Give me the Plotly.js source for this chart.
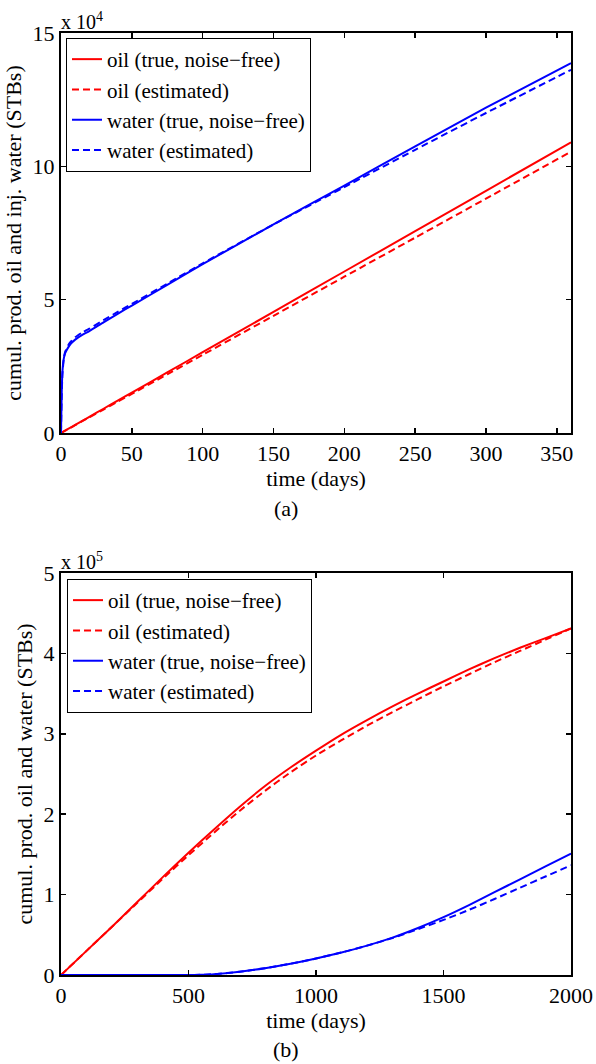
<!DOCTYPE html>
<html>
<head>
<meta charset="utf-8">
<script src="https://cdn.plot.ly/plotly-3.0.1.min.js"></script>
<style>
  html, body { margin: 0; padding: 0; background: #fff; }
  #chart { width: 596px; height: 1064px; }
</style>
</head>
<body>
<div id="chart"></div>
<script>
// ---------- Panel (a): first 360 days ----------
const daysA = [0, 0.5, 1, 2, 3, 5, 7, 10, 15, 20, 30, 40, 50, 75, 100, 150, 200, 250, 300, 360];
const oilTrueA = [0, 151, 303, 606, 908, 1514, 2119, 3028, 4542, 6056, 9083, 12111, 15139, 22708, 30278, 45417, 60556, 75694, 90833, 109000];
const oilEstA  = [0, 147, 293, 586, 879, 1465, 2050, 2930, 4400, 5860, 8790, 11720, 14650, 21980, 29300, 43950, 58600, 73250, 87900, 105500];
const waterTrueA = [0, 15000, 23000, 28000, 30000, 32000, 33500, 35000, 36800, 38200, 41500, 44700, 47800, 55500, 63300, 78200, 92800, 107500, 122000, 138700];
const waterEstA  = [0, 14000, 22000, 28000, 30500, 32800, 34300, 35900, 37700, 39100, 42300, 45400, 48400, 56000, 63600, 78200, 92200, 106200, 120000, 136200];

// ---------- Panel (b): 2000 days ----------
const daysOilB = [0, 100, 200, 300, 400, 500, 600, 700, 800, 900, 1000, 1100, 1200, 1300, 1400, 1500, 1600, 1700, 1800, 1900, 2000];
const oilTrueB = [0, 30000, 60000, 91000, 122000, 152000, 181000, 209000, 235000, 258000, 279000, 299000, 317000, 334000, 350000, 365000, 380000, 394000, 407000, 419000, 431000];
const oilEstB  = [0, 30000, 60000, 90000, 120000, 149000, 177000, 204000, 229000, 252000, 273000, 292000, 310000, 327000, 343000, 359000, 374000, 389000, 403000, 417000, 431000];
const daysWaterB = [0, 200, 400, 500, 550, 600, 700, 800, 900, 1000, 1100, 1200, 1300, 1400, 1500, 1600, 1700, 1800, 1900, 2000];
const waterTrueB = [0, 0, 0, 0, 300, 1000, 4000, 8500, 14000, 20500, 28000, 36500, 46500, 58500, 72000, 87000, 103000, 119000, 135000, 151000];
const waterEstB  = [0, 0, 0, 0, 300, 1000, 4000, 8500, 14000, 20500, 28000, 36500, 46000, 57000, 68500, 81000, 94500, 108500, 122500, 136500];

// tick labels
const xTicksA = [0, 50, 100, 150, 200, 250, 300, 350];
const yTickValsA = [0, 50000, 100000, 150000];
const yTickTextA = ['0', '5', '10', '15'];
const xTicksB = [0, 500, 1000, 1500, 2000];
const yTickValsB = [0, 100000, 200000, 300000, 400000, 500000];
const yTickTextB = ['0', '1', '2', '3', '4', '5'];

const names = ['oil (true, noise\u2212free)', 'oil (estimated)', 'water (true, noise\u2212free)', 'water (estimated)'];

const RED = '#ff0000', BLUE = '#0000ff';
const FONT = 'Liberation Serif';
const DASH = '7px,4px';

function tr(x, y, name, color, dash, xa, ya, leg) {
  return {
    x: x, y: y, name: name, type: 'scatter', mode: 'lines',
    line: { color: color, width: 2, dash: dash, shape: 'spline', smoothing: 0.6 },
    xaxis: xa, yaxis: ya, legend: leg
  };
}

const data = [
  tr(daysA, oilTrueA, names[0], RED, 'solid', 'x', 'y', 'legend'),
  tr(daysA, oilEstA, names[1], RED, DASH, 'x', 'y', 'legend'),
  tr(daysA, waterTrueA, names[2], BLUE, 'solid', 'x', 'y', 'legend'),
  tr(daysA, waterEstA, names[3], BLUE, DASH, 'x', 'y', 'legend'),
  tr(daysOilB, oilTrueB, names[0], RED, 'solid', 'x2', 'y2', 'legend2'),
  tr(daysOilB, oilEstB, names[1], RED, DASH, 'x2', 'y2', 'legend2'),
  tr(daysWaterB, waterTrueB, names[2], BLUE, 'solid', 'x2', 'y2', 'legend2'),
  tr(daysWaterB, waterEstB, names[3], BLUE, DASH, 'x2', 'y2', 'legend2')
];

const axisCommon = {
  showline: true, linecolor: '#000', linewidth: 2, mirror: 'ticks',
  ticks: 'inside', ticklen: 5, tickwidth: 1.5, tickcolor: '#000',
  showgrid: false, zeroline: false,
  tickfont: { family: FONT, size: 22, color: '#000' }
};

const legendCommon = {
  bgcolor: '#fff', bordercolor: '#000', borderwidth: 1,
  font: { family: FONT, size: 21, color: '#000' },
  xanchor: 'left', yanchor: 'top', tracegroupgap: 0, itemwidth: 30
};

const layout = {
  width: 596, height: 1064,
  margin: { l: 61, r: 25, t: 33, b: 89 },
  paper_bgcolor: '#fff', plot_bgcolor: '#fff',
  font: { family: FONT, size: 22, color: '#000' },
  showlegend: true,
  xaxis: Object.assign({}, axisCommon, {
    anchor: 'y', range: [0, 360], tickvals: xTicksA,
    title: { text: 'time (days)', font: { family: FONT, size: 22 }, standoff: 0 }
  }),
  yaxis: Object.assign({}, axisCommon, {
    domain: [0.5754, 1], anchor: 'x', range: [0, 150000],
    tickvals: yTickValsA, ticktext: yTickTextA,
    title: { text: 'cumul. prod. oil and inj. water (STBs)', font: { family: FONT, size: 22 }, standoff: 5 }
  }),
  xaxis2: Object.assign({}, axisCommon, {
    anchor: 'y2', range: [0, 2000], tickvals: xTicksB,
    title: { text: 'time (days)', font: { family: FONT, size: 22 }, standoff: 0 }
  }),
  yaxis2: Object.assign({}, axisCommon, {
    domain: [0, 0.4268], anchor: 'x2', range: [0, 500000],
    tickvals: yTickValsB, ticktext: yTickTextB,
    title: { text: 'cumul. prod. oil and water (STBs)', font: { family: FONT, size: 22 }, standoff: 5 }
  }),
  legend: Object.assign({}, legendCommon, { x: 0.0098, y: 0.9947 }),
  legend2: Object.assign({}, legendCommon, { x: 0.0118, y: 0.4204 }),
  annotations: [
    { text: 'x 10<sup>4</sup>', xref: 'paper', yref: 'paper', x: 0, y: 1, xanchor: 'left', yanchor: 'bottom',
      showarrow: false, font: { family: FONT, size: 20, color: '#000' }, xshift: -2, yshift: -2 },
    { text: 'x 10<sup>5</sup>', xref: 'paper', yref: 'paper', x: 0, y: 0.4268, xanchor: 'left', yanchor: 'bottom',
      showarrow: false, font: { family: FONT, size: 20, color: '#000' }, xshift: -2, yshift: -2 },
    { text: '(a)', xref: 'paper', yref: 'paper', x: 0.441, y: 0.4947, xanchor: 'center', yanchor: 'middle',
      showarrow: false, font: { family: FONT, size: 22, color: '#000' } },
    { text: '(b)', xref: 'paper', yref: 'paper', x: 0.441, y: -0.0796, xanchor: 'center', yanchor: 'middle',
      showarrow: false, font: { family: FONT, size: 22, color: '#000' } }
  ]
};

Plotly.newPlot('chart', data, layout, { staticPlot: true, displayModeBar: false });
</script>
</body>
</html>
